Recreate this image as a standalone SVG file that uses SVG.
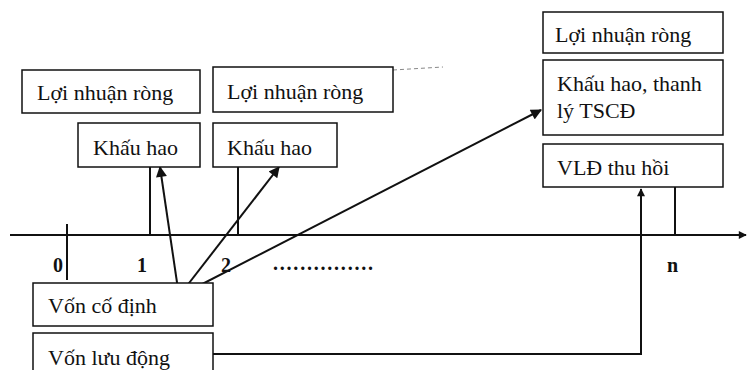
<svg xmlns="http://www.w3.org/2000/svg" width="748" height="370" viewBox="0 0 748 370">
<defs>
<style>
.box{fill:#fff;stroke:#111;stroke-width:1.5}
.t{font-family:"Liberation Serif","DejaVu Serif","Times New Roman",serif;font-size:22px;fill:#111}
.lbl{font-family:"Liberation Serif","DejaVu Serif","Times New Roman",serif;font-size:20px;font-weight:bold;fill:#111}
.ln{stroke:#111;stroke-width:2;fill:none}
</style>
<marker id="ah" viewBox="0 0 10 10" refX="9" refY="5" markerWidth="6.5" markerHeight="5.5" orient="auto" markerUnits="strokeWidth">
<path d="M0,0 L10,5 L0,10 z" fill="#111"/>
</marker>
<marker id="ahs" viewBox="0 0 10 10" refX="9" refY="5" markerWidth="4.5" markerHeight="4" orient="auto" markerUnits="strokeWidth">
<path d="M0,0 L10,5 L0,10 z" fill="#111"/>
</marker>
</defs>
<rect width="748" height="370" fill="#fff"/>

<g id="connectors">
<line class="ln" x1="10" y1="235" x2="746" y2="235" marker-end="url(#ahs)"/>
<line class="ln" x1="67" y1="224" x2="67" y2="280"/>
<line class="ln" x1="150" y1="167" x2="150" y2="235"/>
<line class="ln" x1="238" y1="167" x2="238" y2="235"/>
<line class="ln" x1="675" y1="187" x2="675" y2="235"/>
<line class="ln" x1="179" y1="296" x2="160" y2="167" marker-end="url(#ah)"/>
<line class="ln" x1="179" y1="296" x2="279" y2="167" marker-end="url(#ah)"/>
<line class="ln" x1="179" y1="296" x2="541" y2="110" marker-end="url(#ah)"/>
<polyline class="ln" points="213,354 641,354 641,189" marker-end="url(#ahs)"/>
<line x1="393" y1="70" x2="443" y2="67" stroke="#888" stroke-width="1" stroke-dasharray="4,3"/>
</g>

<g id="axis-labels">
<text class="lbl" x="53" y="272">0</text>
<text class="lbl" x="137" y="272">1</text>
<text class="lbl" x="221" y="272">2</text>
<text class="lbl" x="667" y="272">n</text>
<text class="lbl" x="273" y="270" textLength="100" lengthAdjust="spacing">...............</text>
</g>

<g id="ln1">
<rect class="box" x="22" y="70" width="178" height="43"/>
<text class="t" x="37" y="100">Lợi nhuận ròng</text>
</g>
<g id="ln2">
<rect class="box" x="213" y="67" width="180" height="45"/>
<text class="t" x="227" y="99">Lợi nhuận ròng</text>
</g>
<g id="kh1">
<rect class="box" x="78" y="123" width="122" height="44"/>
<text class="t" x="93" y="155">Khấu hao</text>
</g>
<g id="kh2">
<rect class="box" x="213" y="123" width="124" height="44"/>
<text class="t" x="227" y="155">Khấu hao</text>
</g>
<g id="lnn">
<rect class="box" x="543" y="12" width="180" height="41"/>
<text class="t" x="555" y="42">Lợi nhuận ròng</text>
</g>
<g id="khn">
<rect class="box" x="543" y="60" width="180" height="75"/>
<text class="t" x="557" y="91">Khấu hao, thanh</text>
<text class="t" x="557" y="118">lý TSCĐ</text>
</g>
<g id="vld">
<rect class="box" x="543" y="144" width="180" height="43"/>
<text class="t" x="557" y="175">VLĐ thu hồi</text>
</g>
<g id="vcd">
<rect class="box" x="33" y="283" width="180" height="43"/>
<text class="t" x="48" y="313">Vốn cố định</text>
</g>
<g id="vld0">
<rect class="box" x="33" y="333" width="180" height="45"/>
<text class="t" x="48" y="365">Vốn lưu động</text>
</g>
</svg>
